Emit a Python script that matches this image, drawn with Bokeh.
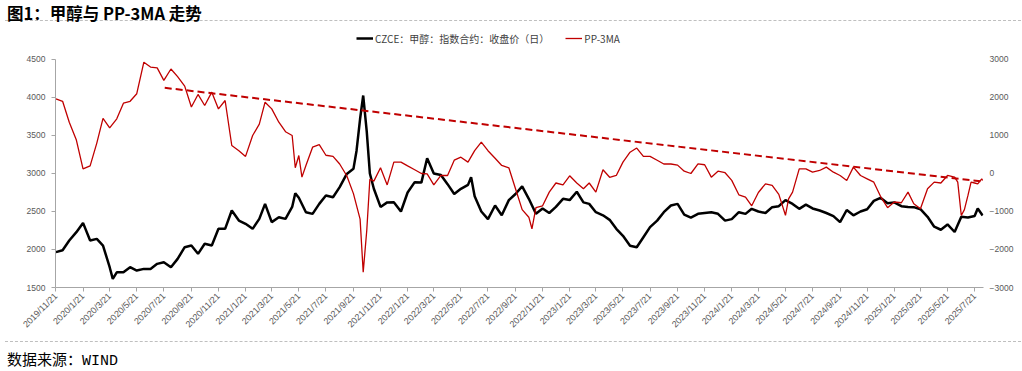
from datetime import datetime
import pandas as pd
from bokeh.plotting import figure
from bokeh.models import Range1d, LinearAxis, FixedTicker, Legend, LegendItem, Div, ColumnDataSource
from bokeh.layouts import column
from bokeh.embed import file_html
from bokeh.resources import INLINE

title_text = "图1：甲醇与 PP-3MA 走势"
source_text = "数据来源：WIND"
black_name = "CZCE：甲醇：指数合约：收盘价（日）"
red_name = "PP-3MA"

tick_labels = [
    "2019/11/21",
    "2020/1/21", "2020/3/21", "2020/5/21", "2020/7/21", "2020/9/21", "2020/11/21",
    "2021/1/21", "2021/3/21", "2021/5/21", "2021/7/21", "2021/9/21", "2021/11/21",
    "2022/1/21", "2022/3/21", "2022/5/21", "2022/7/21", "2022/9/21", "2022/11/21",
    "2023/1/21", "2023/3/21", "2023/5/21", "2023/7/21", "2023/9/21", "2023/11/21",
    "2024/1/21", "2024/3/21", "2024/5/21", "2024/7/21", "2024/9/21", "2024/11/21",
    "2025/1/21", "2025/3/21", "2025/5/21", "2025/7/21",
]
left_ticks = [1500, 2000, 2500, 3000, 3500, 4000, 4500]
right_ticks = [-3000, -2000, -1000, 0, 1000, 2000, 3000]

# CZCE methanol index close (left axis)
black_dates = [
    "2019-11-21", "2019-12-06", "2019-12-21",
    "2020-01-06", "2020-01-21", "2020-02-06", "2020-02-21", "2020-03-06", "2020-03-21", "2020-03-28",
    "2020-04-06", "2020-04-21", "2020-05-06", "2020-05-21", "2020-06-06", "2020-06-21", "2020-07-06",
    "2020-07-21", "2020-08-06", "2020-08-21", "2020-09-06", "2020-09-21", "2020-10-06", "2020-10-21",
    "2020-11-06", "2020-11-21", "2020-12-06", "2020-12-21",
    "2021-01-06", "2021-01-21", "2021-02-06", "2021-02-21", "2021-03-06", "2021-03-21", "2021-04-06",
    "2021-04-21", "2021-05-06", "2021-05-13", "2021-05-21", "2021-06-06", "2021-06-21", "2021-07-06",
    "2021-07-21", "2021-08-06", "2021-08-21", "2021-09-06", "2021-09-21", "2021-09-28", "2021-10-06",
    "2021-10-13", "2021-10-21", "2021-10-28", "2021-11-06", "2021-11-21", "2021-12-06", "2021-12-21",
    "2022-01-06", "2022-01-21", "2022-02-06", "2022-02-21", "2022-03-06", "2022-03-21", "2022-04-06",
    "2022-04-21", "2022-05-06", "2022-05-21", "2022-06-06", "2022-06-13", "2022-06-21", "2022-07-06",
    "2022-07-21", "2022-08-06", "2022-08-21", "2022-09-06", "2022-09-21", "2022-10-06", "2022-10-21",
    "2022-11-06", "2022-11-21", "2022-12-06", "2022-12-21",
    "2023-01-06", "2023-01-21", "2023-02-06", "2023-02-21", "2023-03-06", "2023-03-21", "2023-04-06",
    "2023-04-21", "2023-05-06", "2023-05-21", "2023-06-06", "2023-06-21", "2023-07-06", "2023-07-21",
    "2023-08-06", "2023-08-21", "2023-09-06", "2023-09-21", "2023-10-06", "2023-10-21", "2023-11-06",
    "2023-11-21", "2023-12-06", "2023-12-21",
    "2024-01-06", "2024-01-21", "2024-02-06", "2024-02-21", "2024-03-06", "2024-03-21", "2024-04-06",
    "2024-04-21", "2024-05-06", "2024-05-21", "2024-06-06", "2024-06-21", "2024-07-06", "2024-07-21",
    "2024-08-06", "2024-08-21", "2024-09-06", "2024-09-21", "2024-10-06", "2024-10-21", "2024-11-06",
    "2024-11-21", "2024-12-06", "2024-12-21",
    "2025-01-06", "2025-01-21", "2025-02-06", "2025-02-21", "2025-03-06", "2025-03-21", "2025-04-06",
    "2025-04-21", "2025-05-06", "2025-05-21", "2025-06-06", "2025-06-21", "2025-07-06", "2025-07-21",
    "2025-07-28", "2025-08-08",
]
black_close = [
    1965, 1990, 2118,
    2228, 2350, 2118, 2140, 2052, 1767, 1614,
    1700, 1700, 1767, 1723, 1745, 1745, 1811,
    1833, 1767, 1877, 2030, 2052, 1943, 2075,
    2052, 2272, 2272, 2513,
    2381, 2338, 2272, 2403, 2601, 2360, 2425,
    2403, 2560, 2740, 2680, 2491, 2469, 2600,
    2710, 2688, 2820, 2995, 3061, 3300, 3720,
    4026, 3550, 3000, 2800, 2560, 2620, 2623,
    2500, 2750, 2886, 2880, 3200, 3000, 2980,
    2860, 2730, 2798, 2850, 2952, 2700, 2500,
    2400, 2579, 2450, 2650, 2730, 2830, 2667,
    2470, 2540, 2480, 2560,
    2667, 2650, 2760, 2620, 2600, 2491, 2450,
    2390, 2272, 2180, 2050, 2030, 2162, 2294,
    2380, 2491, 2579, 2600, 2460, 2420, 2469,
    2480, 2491, 2470,
    2380, 2400, 2491, 2469, 2535, 2500, 2480,
    2557, 2570, 2650, 2600, 2535, 2590, 2540,
    2513, 2480, 2440, 2360, 2520, 2450, 2500,
    2530, 2640, 2680,
    2610, 2620, 2570, 2560, 2557, 2530, 2430,
    2300, 2260, 2330, 2230, 2430, 2420, 2440,
    2540, 2447,
]

# PP-3MA (right axis)
red_dates = [
    "2019-11-21", "2019-12-06", "2019-12-21",
    "2020-01-06", "2020-01-21", "2020-02-06", "2020-02-21", "2020-03-06", "2020-03-21", "2020-04-06",
    "2020-04-21", "2020-05-06", "2020-05-21", "2020-06-06", "2020-06-21", "2020-07-06", "2020-07-21",
    "2020-08-06", "2020-08-21", "2020-09-06", "2020-09-21", "2020-10-06", "2020-10-21", "2020-11-06",
    "2020-11-21", "2020-12-06", "2020-12-21",
    "2021-01-06", "2021-01-21", "2021-02-06", "2021-02-21", "2021-03-06", "2021-03-21", "2021-04-06",
    "2021-04-21", "2021-05-06", "2021-05-13", "2021-05-21", "2021-05-28", "2021-06-06", "2021-06-21",
    "2021-07-06", "2021-07-21", "2021-08-06", "2021-08-21", "2021-09-06", "2021-09-21", "2021-10-06",
    "2021-10-13", "2021-10-21", "2021-10-28", "2021-11-06", "2021-11-21", "2021-12-06", "2021-12-21",
    "2022-01-06", "2022-01-21", "2022-02-06", "2022-02-21", "2022-03-06", "2022-03-21", "2022-04-06",
    "2022-04-21", "2022-05-06", "2022-05-21", "2022-06-06", "2022-06-21", "2022-07-06", "2022-07-21",
    "2022-08-06", "2022-08-21", "2022-09-06", "2022-09-21", "2022-10-06", "2022-10-21", "2022-10-28",
    "2022-11-06", "2022-11-21", "2022-12-06", "2022-12-21",
    "2023-01-06", "2023-01-21", "2023-02-06", "2023-02-21", "2023-03-06", "2023-03-21", "2023-04-06",
    "2023-04-21", "2023-05-06", "2023-05-21", "2023-06-06", "2023-06-21", "2023-07-06", "2023-07-21",
    "2023-08-06", "2023-08-21", "2023-09-06", "2023-09-21", "2023-10-06", "2023-10-21", "2023-11-06",
    "2023-11-21", "2023-12-06", "2023-12-21",
    "2024-01-06", "2024-01-21", "2024-02-06", "2024-02-21", "2024-03-06", "2024-03-21", "2024-04-06",
    "2024-04-21", "2024-05-06", "2024-05-21", "2024-05-28", "2024-06-06", "2024-06-21", "2024-07-06",
    "2024-07-21", "2024-08-06", "2024-08-21", "2024-09-06", "2024-09-21", "2024-10-06", "2024-10-21",
    "2024-11-06", "2024-11-21", "2024-12-06", "2024-12-21",
    "2025-01-06", "2025-01-21", "2025-02-06", "2025-02-21", "2025-03-06", "2025-03-21", "2025-04-06",
    "2025-04-21", "2025-05-06", "2025-05-21", "2025-06-06", "2025-06-13", "2025-06-21", "2025-06-28",
    "2025-07-06", "2025-07-13", "2025-07-21", "2025-07-28", "2025-08-06", "2025-08-08",
]
red_pp3ma = [
    1965, 1900, 1350,
    880, 120, 200, 800, 1450, 1200, 1439,
    1850, 1900, 2100, 2930, 2800, 2780, 2450,
    2750, 2550, 2300, 1750, 2080, 1790, 2140,
    1700, 1921, 737,
    600, 450, 1000, 1300, 1877, 1700, 1350,
    1100, 1000, 150, 474, -96, 211, 693,
    760, 480, 450, 250, -60, -530, -1200,
    -2596, -1500, -150, -200, 150, -300, 300,
    300, 200, 100, 0, -10, -300, -50,
    -52, 350, 430, 300, 600, 825, 600,
    400, 211, 150, -400, -950, -1150, -1455,
    -900, -850, -491, -250,
    -300, -60, -250, -400, -250, -491, 100,
    -100, -52, 300, 560, 670, 450, 450,
    350, 250, 250, 220, 60, 0, 255,
    230, -96, 60,
    20, -180, -560, -622, -850, -500, -271,
    -315, -550, -1100, -666, -491, 123, 123,
    35, 80, 167, 35, -52, -184, 167,
    -52, -140, -228, -600,
    -900, -750, -770, -491, -797, -929, -403,
    -228, -250, -52, -96, -228, -1105, -950,
    -578, -228, -250, -271, -140, -184,
]

# dashed resistance line on PP-3MA (right axis)
trend_dates = ["2020-07-23", "2025-09-25"]
trend_values = [2254, -273]

assert len(black_dates) == len(black_close)
assert len(red_dates) == len(red_pp3ma)

black_src = ColumnDataSource(dict(d=pd.to_datetime(black_dates), v=black_close))
red_src = ColumnDataSource(dict(d=pd.to_datetime(red_dates), v=red_pp3ma))
trend_src = ColumnDataSource(dict(d=pd.to_datetime(trend_dates), v=trend_values))

epoch = datetime(1970, 1, 1)
tick_ms = [(datetime.strptime(s, "%Y/%m/%d") - epoch).total_seconds() * 1000.0 for s in tick_labels]

AXIS_GRAY = "#a6a6a6"
LABEL_GRAY = "#595959"
FONT = "Liberation Sans"

# frame extends above the 4500 line so the legend can sit inside it;
# the ranges keep 1500..4500 (left) and -3000..3000 (right) on the same pixels.
p = figure(width=1016, height=309, x_axis_type="datetime", output_backend="svg",
           toolbar_location=None,
           x_range=Range1d(datetime(2019, 11, 20), datetime(2025, 8, 10)),
           y_range=Range1d(1500, 4868.4),
           min_border_left=55, min_border_right=30, min_border_top=4, min_border_bottom=49)
p.extra_y_ranges = {"right": Range1d(-3000, 3736.8)}
p.outline_line_color = None
p.xgrid.visible = False
p.ygrid.visible = False
p.background_fill_color = "white"
p.border_fill_color = "white"

xa = p.xaxis[0]
xa.ticker = FixedTicker(ticks=tick_ms, minor_ticks=[])
xa.major_label_overrides = {t: s for t, s in zip(tick_ms, tick_labels)}
xa.major_label_orientation = 0.785398
xa.axis_line_color = AXIS_GRAY
xa.major_tick_line_color = AXIS_GRAY
xa.major_tick_out = 4
xa.major_tick_in = 0
xa.minor_tick_line_color = None
xa.major_label_text_font = FONT
xa.major_label_text_font_size = "9px"
xa.major_label_text_color = LABEL_GRAY
xa.major_label_standoff = 3

ya = p.yaxis[0]
ya.ticker = FixedTicker(ticks=left_ticks, minor_ticks=[])
ya.bounds = (1500, 4500)
ya.axis_line_color = AXIS_GRAY
ya.major_tick_line_color = AXIS_GRAY
ya.major_tick_out = 4
ya.major_tick_in = 0
ya.minor_tick_line_color = None
ya.major_label_text_font = FONT
ya.major_label_text_font_size = "8.5px"
ya.major_label_text_color = LABEL_GRAY
ya.major_label_standoff = 6

ra = LinearAxis(y_range_name="right", ticker=FixedTicker(ticks=right_ticks, minor_ticks=[]))
ra.bounds = (-3000, 3000)
ra.axis_line_color = None
ra.major_tick_line_color = None
ra.major_tick_out = 0
ra.major_tick_in = 0
ra.minor_tick_line_color = None
ra.major_label_text_font = FONT
ra.major_label_text_font_size = "8.5px"
ra.major_label_text_color = LABEL_GRAY
ra.major_label_standoff = 6
p.add_layout(ra, "right")

rb = p.line(x="d", y="v", source=black_src, line_color="#000000", line_width=2.5)
rr = p.line(x="d", y="v", source=red_src, y_range_name="right", line_color="#c00000", line_width=1.3)
p.line(x="d", y="v", source=trend_src, y_range_name="right", line_color="#c00000",
       line_width=2.0, line_dash="7 4")

legend = Legend(items=[LegendItem(label=black_name, renderers=[rb]),
                       LegendItem(label=red_name, renderers=[rr])],
                orientation="horizontal", location=(301, 241),
                label_text_font="Noto Sans CJK SC", label_text_font_size="10px",
                label_text_color="#404040", glyph_width=17, glyph_height=16,
                label_height=16, label_standoff=2, spacing=16, padding=0, margin=0,
                background_fill_alpha=0, border_line_alpha=0)
p.add_layout(legend)

title_div = Div(
    text=('<div style="width:1016px;height:16px;border-bottom:1px dashed #bfbfbf;">'
          '<div style="padding-left:2px;font-family:\'Noto Sans CJK SC\',sans-serif;'
          'font-weight:700;font-size:16.5px;line-height:16px;color:#000;white-space:nowrap;">'
          + title_text + '</div></div>'),
    width=1016, height=17)

source_div = Div(
    text=('<div style="width:1016px;height:28px;border-top:1px dashed #bfbfbf;">'
          '<div style="padding-top:12px;padding-left:2px;font-family:\'Liberation Mono\',\'Noto Sans CJK SC\',monospace;'
          'font-size:15px;line-height:16px;color:#000;white-space:nowrap;">'
          + source_text + '</div></div>'),
    width=1016, height=29)

layout = column(title_div, p, source_div, spacing=0)

with open("out.html", "w") as f:
    f.write(file_html(layout, INLINE))
